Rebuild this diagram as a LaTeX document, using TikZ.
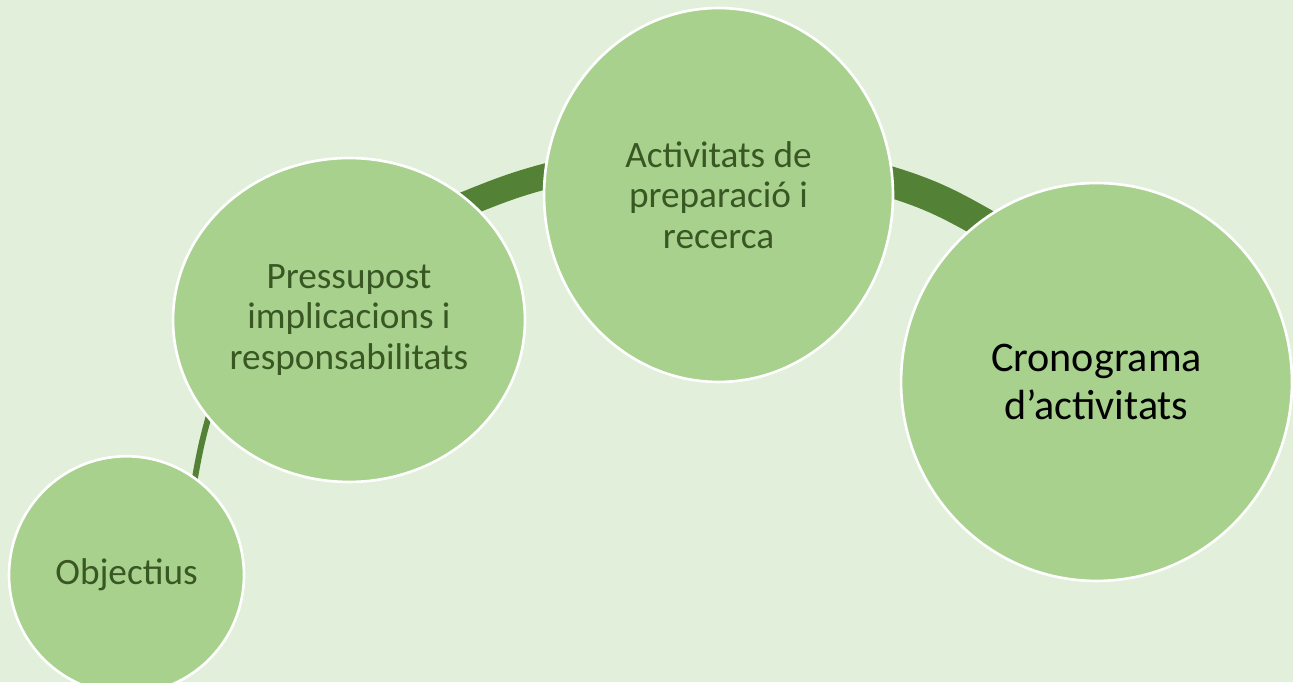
\documentclass[tikz,border=0pt]{standalone}
\usepackage{fontspec}
\setmainfont{Carlito}
\usepackage{tikz}
\usetikzlibrary{positioning,shapes.geometric}
\definecolor{pagebg}{HTML}{E2EFDA}
\definecolor{bubblefill}{HTML}{A9D18E}
\definecolor{bubbletext}{HTML}{385723}
\definecolor{arcgreen}{HTML}{538135}
\pgfdeclarelayer{bg}
\pgfdeclarelayer{links}
\pgfsetlayers{bg,links,main}

\begin{document}
\begin{tikzpicture}[
  x=0.02cm, y=0.02cm,
  bubble/.style={ellipse, draw=white, line width=1.5pt, fill=bubblefill,
                 text=bubbletext, align=center, inner sep=0pt,
                 font=\fontsize{21.2}{23}\selectfont},
  arcband/.style={draw=arcgreen, shorten <=-12pt, shorten >=-12pt},
]
\useasboundingbox (0,0) rectangle (1293,682);
\begin{pgfonlayer}{bg}
  \fill[pagebg] (0,0) rectangle (1293,682);
\end{pgfonlayer}

% Circles
\node[bubble, minimum width=4.7cm, minimum height=4.75cm] (obj) at (126.5,107) {Objectius};
\node[bubble, minimum width=7.04cm, minimum height=6.48cm] (pres) at (349,362)
  {Pressupost\\implicacions i\\responsabilitats};
\node[bubble, minimum width=6.98cm, minimum height=7.48cm] (act) at (718.5,487)
  {Activitats de\\preparació i\\recerca};
\node[bubble, minimum width=7.82cm, minimum height=7.96cm, text=black,
      font=\fontsize{24}{27}\selectfont] (cron) at (1096.5,300)
  {Cronograma\\d’activitats};

% Connecting arcs
\begin{pgfonlayer}{links}
  \draw[arcband, line width=3.4pt] (obj.55) to[out=80, in=253] (pres.215);
  \draw[arcband, line width=14.5pt] (pres.44) to[out=22, in=194] (act.174);
  \draw[arcband, line width=17.5pt] (act.4) to[out=-16, in=150] (cron.126);
\end{pgfonlayer}

\end{tikzpicture}
\end{document}
